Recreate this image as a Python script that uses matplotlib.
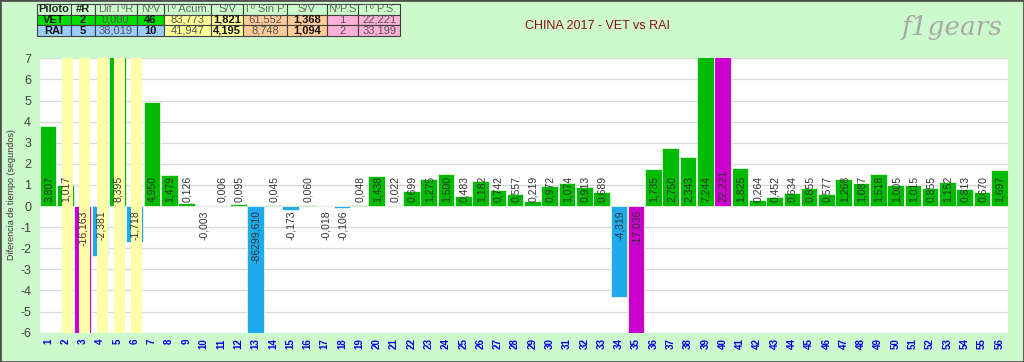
import matplotlib
matplotlib.use("Agg")
import matplotlib.pyplot as plt
from matplotlib.patches import Rectangle

# lap-by-lap time difference VET vs RAI (seconds)
laps = list(range(1, 57))
diffs = [3.807, 1.017, -16.163, -2.381, 8.395, -1.718, 4.950, 1.479, 0.126, -0.003,
         0.006, 0.095, -86299.610, 0.045, -0.173, 0.060, -0.018, -0.106, 0.048, 1.438,
         0.022, 0.699, 1.275, 1.500, 0.483, 1.182, 0.742, 0.557, 0.219, 0.972,
         1.074, 0.913, 0.689, -4.319, -17.036, 1.735, 2.750, 2.343, 7.244, 22.221,
         1.825, 0.264, 0.452, 0.634, 0.855, 0.577, 1.268, 1.087, 1.518, 1.005,
         1.015, 0.855, 1.152, 0.813, 0.670, 1.697]
pit_laps = [3, 35, 40]
sc_laps = [2, 3, 4, 5, 6]

# summary table
table_header = ["Piloto", "#R", "Dif.TºR", "NºV", "Tº Acum.", "S/V",
                "Tº Sin P.", "S/V", "NºP.S", "Tº P.S."]
table_vet = ["VET", "2", "0,000", "46", "83,773", "1,821", "61,552", "1,368", "1", "22,221"]
table_rai = ["RAI", "5", "38,019", "10", "41,947", "4,195", "8,748", "1,094", "2", "33,199"]

BG = "#CDFACD"
GREEN = "#00BB00"
BLUE = "#1EAAEB"
MAGENTA = "#CC00CC"
YELLOW = "#FFFFAA"

W, H = 1024, 362
plt.rcParams['font.family'] = ['Liberation Sans', 'DejaVu Sans']
plt.rcParams['axes.unicode_minus'] = False
fig = plt.figure(figsize=(W / 100, H / 100), dpi=100, facecolor=BG)


def px_axes(x0, y0, x1, y1, **kw):
    return fig.add_axes([x0 / W, 1 - y1 / H, (x1 - x0) / W, (y1 - y0) / H], **kw)


ax = px_axes(39.5, 58.3, 1008, 332.7)
ax.set_facecolor("white")

colors = []
for lap, d in zip(laps, diffs):
    if lap in pit_laps:
        colors.append(MAGENTA)
    elif d >= 0:
        colors.append(GREEN)
    else:
        colors.append(BLUE)

ax.bar(laps, diffs, width=0.96, color=colors, edgecolor="#E8F5E8", linewidth=0.6, zorder=2)
ax.bar([l + 0.12 for l in sc_laps], [13] * len(sc_laps), bottom=-6, width=0.64,
       color=YELLOW, zorder=3)

for lap, d in zip(laps, diffs):
    txt = f"{d:.3f}".replace(".", ",")
    if d >= 0:
        ax.annotate(txt, (lap, 0), xytext=(0.5, 3), textcoords="offset points",
                    rotation=90, ha="center", va="bottom", fontsize=7.5,
                    color="#333333", zorder=4)
    else:
        ax.annotate(txt, (lap, 0), xytext=(0.5, -3), textcoords="offset points",
                    rotation=90, ha="center", va="top", fontsize=7.5,
                    color="#333333", zorder=4)

ax.set_xlim(0.5, 56.5)
ax.set_ylim(-6, 7)
ax.set_yticks(range(-6, 8))
ax.set_xticks(laps)
ax.set_xticklabels([str(l) for l in laps], rotation=90, color="#0000EE",
                   fontsize=7, fontweight="bold")
ax.tick_params(axis="y", labelsize=9, labelcolor="#404040", length=0, pad=6)
ax.tick_params(axis="x", length=0, pad=4)
ax.grid(axis="y", color="#D8D8D8", linewidth=0.9, zorder=0)
ax.set_axisbelow(True)
for s in ax.spines.values():
    s.set_visible(False)
fig.text(12 / W, 1 - 195 / H, "Diferencia de tiempo (segundos)", rotation=90,
         ha="center", va="center", fontsize=6.5, color="#333333")

# title and logo
fig.text(597 / W, 1 - 26 / H, "CHINA 2017 - VET vs RAI", ha="center", va="center",
         fontsize=9, color="#8B1010")
fig.text(952 / W, 1 - 27 / H, "f1gears", ha="center", va="center", fontsize=19,
         style="italic", family="DejaVu Serif", color="#A8A8A8")

# table
tax = px_axes(37.3, 4, 400, 36)
tax.axis("off")
col_w = [33.7, 24, 41.7, 27.3, 46.7, 32.6, 43.4, 40, 31.6, 41.7]
col_w = [c / sum(col_w) for c in col_w]
row_cols = ["#00DD00"] * 4 + ["#FFFF99"] * 2 + ["#FFCC99"] * 2 + ["#FFB0D8"] * 2
rai_cols = ["#99CCFF"] * 4 + ["#FFFF99"] * 2 + ["#FFCC99"] * 2 + ["#FFB0D8"] * 2
tbl = tax.table(cellText=[table_header, table_vet, table_rai],
                cellColours=[["#CCFFCC"] * 10, row_cols, rai_cols],
                colWidths=col_w, cellLoc="center", bbox=[0, 0, 1, 1])
tbl.auto_set_font_size(False)
bold_cols = [0, 1, 3, 5, 7]
for (r, c), cell in tbl.get_celld().items():
    cell.set_edgecolor("#404040")
    cell.set_linewidth(0.8)
    cell.PAD = 0.02
    t = cell.get_text()
    t.set_fontsize(8)
    if r == 0:
        t.set_color("#222222" if c < 2 else "#666666")
        if c < 2:
            t.set_fontweight("bold")
    else:
        if c in bold_cols:
            t.set_fontweight("bold")
            t.set_color("#111111")
        else:
            t.set_color("#555555")

fig.patches.append(Rectangle((0, 0), 1, 1, transform=fig.transFigure, fill=False,
                             edgecolor="#505050", linewidth=2))

fig.savefig("out.png", dpi=100, facecolor=BG)
